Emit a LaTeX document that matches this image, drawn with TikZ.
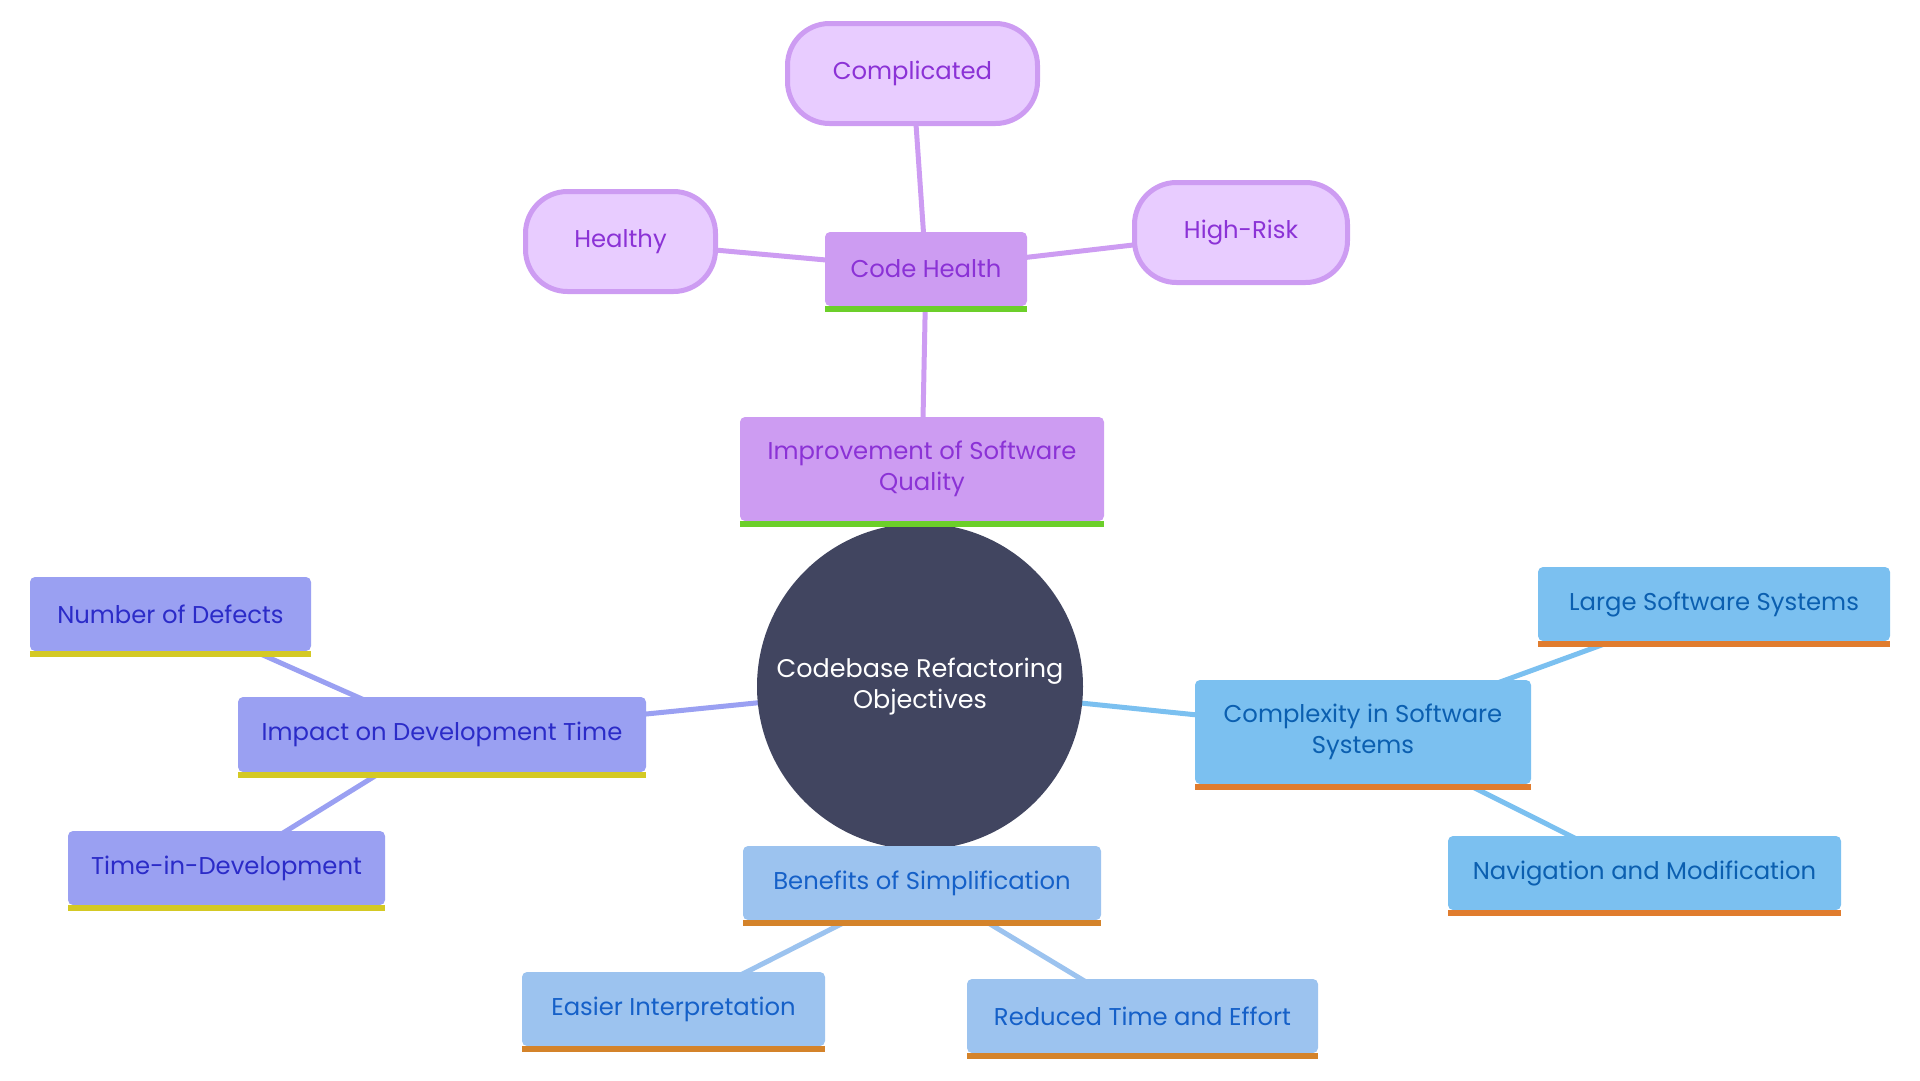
\documentclass[tikz,border=0pt]{standalone}
\usepackage{fontspec}
\setmainfont{Poppins}
\usetikzlibrary{backgrounds}
\definecolor{purpmain}{HTML}{CD9CF2}
\definecolor{purpleaf}{HTML}{E8CCFF}
\definecolor{purptext}{HTML}{8B32D6}
\definecolor{greenbar}{HTML}{6CCF2A}
\definecolor{violfill}{HTML}{9AA0F2}
\definecolor{violtext}{HTML}{2B2BC8}
\definecolor{yellbar}{HTML}{D4C924}
\definecolor{cplxfill}{HTML}{7BC0F0}
\definecolor{cplxtext}{HTML}{0B5FB0}
\definecolor{orangebar}{HTML}{E07C2E}
\definecolor{benefill}{HTML}{9CC3EF}
\definecolor{benetext}{HTML}{1560C8}
\definecolor{benebar}{HTML}{D4832A}
\definecolor{darkcirc}{HTML}{414560}
\tikzset{
  x=1pt, y=-1pt,
  lbl/.style={font=\fontsize{24.3}{31}\selectfont, align=center, inner sep=0pt},
  boxnode/.style={lbl, rectangle, rounded corners=5pt, draw=none},
  leafnode/.style={lbl, rectangle, rounded corners=42pt, fill=purpleaf, draw=purpmain, line width=5pt, text=purptext},
  edgeline/.style={line width=5pt},
}
\newcommand{\barunder}[2]{\fill[#2] (#1.south west) rectangle ([yshift=-6pt]#1.south east);}
\begin{document}
\begin{tikzpicture}
\useasboundingbox (0,0) rectangle (1920,1080);
% center
\node[circle, fill=darkcirc, minimum size=326pt, inner sep=0pt, text=white, lbl, font=\fontsize{25.5}{31}\selectfont] (root) at (920,686.5) {Codebase Refactoring\\Objectives};
% purple branch
\node[boxnode, fill=purpmain, text=purptext, minimum width=364pt, minimum height=104pt] (improve) at (922,469) {Improvement of Software\\Quality};
\barunder{improve}{greenbar}
\node[boxnode, fill=purpmain, text=purptext, minimum width=202pt, minimum height=74pt] (health) at (926,269) {Code Health};
\barunder{health}{greenbar}
\node[leafnode, minimum width=250pt, minimum height=100pt] (compl) at (912.5,73.5) {Complicated};
\node[leafnode, minimum width=190pt, minimum height=100pt] (healthy) at (620.5,241.5) {Healthy};
\node[leafnode, minimum width=213pt, minimum height=100pt] (highrisk) at (1241,232.5) {High-Risk};
% violet branch
\node[boxnode, fill=violfill, text=violtext, minimum width=408pt, minimum height=75pt] (impact) at (442,734.5) {Impact on Development Time};
\barunder{impact}{yellbar}
\node[boxnode, fill=violfill, text=violtext, minimum width=281pt, minimum height=74pt] (defects) at (170.5,614) {Number of Defects};
\barunder{defects}{yellbar}
\node[boxnode, fill=violfill, text=violtext, minimum width=317pt, minimum height=74pt] (timedev) at (226.5,868) {Time-in-Development};
\barunder{timedev}{yellbar}
% benefits branch
\node[boxnode, fill=benefill, text=benetext, minimum width=358pt, minimum height=74pt] (benef) at (922,883) {Benefits of Simplification};
\barunder{benef}{benebar}
\node[boxnode, fill=benefill, text=benetext, minimum width=303pt, minimum height=74pt] (easier) at (673.5,1009) {Easier Interpretation};
\barunder{easier}{benebar}
\node[boxnode, fill=benefill, text=benetext, minimum width=351pt, minimum height=74pt] (reduced) at (1142.5,1016) {Reduced Time and Effort};
\barunder{reduced}{benebar}
% complexity branch
\node[boxnode, fill=cplxfill, text=cplxtext, minimum width=336pt, minimum height=104pt] (cplx) at (1363,732) {Complexity in Software\\Systems};
\barunder{cplx}{orangebar}
\node[boxnode, fill=cplxfill, text=cplxtext, minimum width=352pt, minimum height=74pt] (large) at (1714,604) {Large Software Systems};
\barunder{large}{orangebar}
\node[boxnode, fill=cplxfill, text=cplxtext, minimum width=393pt, minimum height=74pt] (navig) at (1644.5,873) {Navigation and Modification};
\barunder{navig}{orangebar}
% edges
\begin{pgfonlayer}{background}
\draw[edgeline, purpmain] (root.center) -- (improve.center);
\draw[edgeline, purpmain] (improve.center) -- (health.center);
\draw[edgeline, purpmain] (health.center) -- (compl.center);
\draw[edgeline, purpmain] (health.center) -- (healthy.center);
\draw[edgeline, purpmain] (health.center) -- (highrisk.center);
\draw[edgeline, violfill] (root.center) -- (impact.center);
\draw[edgeline, violfill] (impact.center) -- (defects.center);
\draw[edgeline, violfill] (impact.center) -- (timedev.center);
\draw[edgeline, benefill] (root.center) -- (benef.center);
\draw[edgeline, benefill] (benef.center) -- (easier.center);
\draw[edgeline, benefill] (benef.center) -- (reduced.center);
\draw[edgeline, cplxfill] (root.center) -- (cplx.center);
\draw[edgeline, cplxfill] (cplx.center) -- (large.center);
\draw[edgeline, cplxfill] (cplx.center) -- (navig.center);
\end{pgfonlayer}
\end{tikzpicture}
\end{document}
